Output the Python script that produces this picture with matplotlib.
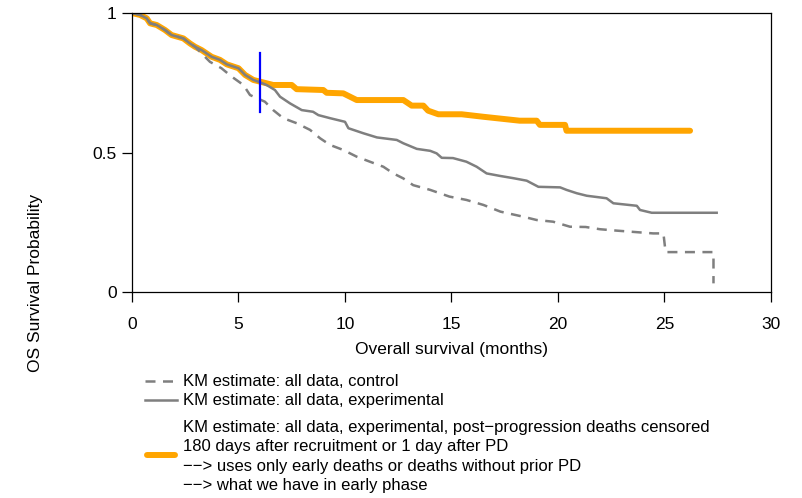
import numpy as np
import matplotlib.pyplot as plt
from matplotlib.lines import Line2D

plt.rcParams['font.family'] = ['Liberation Sans', 'DejaVu Sans']

# Kaplan-Meier curves as vertices (months, survival probability)
# shared early part of all three curves
early_t = [0, 0.38, 0.69, 0.85, 1.16, 1.55, 1.86, 2.41, 2.72, 2.96]
early_s = [1.0, 0.993, 0.981, 0.963, 0.957, 0.939, 0.921, 0.909, 0.891, 0.879]

# experimental arm, all data
exp_t = early_t + [3.27, 3.74, 4.13, 4.45, 5.0, 5.31, 5.7, 6.0, 6.32, 6.71, 6.95,
                   7.42, 7.97, 8.5, 8.75, 9.3, 10.0, 10.16, 10.86, 11.5, 12.43,
                   12.74, 13.37, 14.0, 14.3, 14.54, 15.07, 15.7, 16.18, 16.65,
                   17.28, 17.9, 18.53, 19.08, 20.1, 20.4, 20.88, 21.35, 22.28,
                   22.6, 23.7, 23.85, 24.4, 27.45]
exp_s = early_s + [0.867, 0.843, 0.832, 0.816, 0.802, 0.778, 0.760, 0.752, 0.742,
                   0.724, 0.700, 0.676, 0.652, 0.646, 0.634, 0.623, 0.610, 0.587,
                   0.569, 0.554, 0.545, 0.533, 0.513, 0.506, 0.497, 0.481, 0.480,
                   0.467, 0.449, 0.425, 0.416, 0.408, 0.399, 0.377, 0.375, 0.366,
                   0.354, 0.345, 0.336, 0.318, 0.309, 0.294, 0.284, 0.284]

# control arm, all data
ctl_t = early_t + [3.27, 3.66, 4.2, 4.68, 5.23, 5.54, 6.24, 6.63, 7.1, 7.73, 8.36,
                   8.83, 9.3, 9.92, 10.55, 11.17, 11.8, 12.27, 12.74, 13.2, 14.0,
                   14.9, 15.7, 16.5, 17.3, 18.36, 19.0, 19.77, 20.56, 21.3, 21.97,
                   22.75, 24.47, 24.95, 25.05, 27.3, 27.3]
ctl_s = early_s + [0.855, 0.825, 0.802, 0.772, 0.742, 0.706, 0.682, 0.652, 0.623,
                   0.605, 0.581, 0.551, 0.527, 0.509, 0.485, 0.467, 0.449, 0.425,
                   0.407, 0.383, 0.366, 0.342, 0.330, 0.312, 0.288, 0.270, 0.258,
                   0.252, 0.234, 0.233, 0.225, 0.220, 0.210, 0.210, 0.143, 0.143,
                   0.031]

# experimental arm, post-progression deaths censored
cens_t = exp_t[:17] + [6.63, 7.5, 7.73, 8.98, 9.14, 9.92, 10.55, 12.74, 13.13,
                       13.68, 13.9, 14.38, 15.48, 16.5, 18.2, 19.0, 19.15, 20.33,
                       20.4, 26.2]
cens_s = exp_s[:17] + [0.742, 0.742, 0.727, 0.724, 0.714, 0.712, 0.688, 0.688,
                       0.668, 0.668, 0.650, 0.637, 0.637, 0.628, 0.614, 0.614,
                       0.599, 0.599, 0.578, 0.578]

cut_month = 6.0
cut_range = [0.645, 0.857]

grey = '#7f7f7f'
orange = '#ffa500'

fig = plt.figure(figsize=(8.03, 4.98), dpi=100)
ax = fig.add_axes([132/803, 1 - 292/498, 639/803, 279/498])

ax.plot(cens_t, cens_s, color=orange, lw=4.3,
        solid_capstyle='round', solid_joinstyle='round')
ax.plot(ctl_t, ctl_s, color=grey, lw=1.8, dashes=(4, 3))
ax.plot(exp_t, exp_s, color=grey, lw=1.8)
ax.plot([cut_month, cut_month], cut_range, color='blue', lw=1.6)

ax.set_xlim(0, 30)
ax.set_ylim(0, 1)
ax.set_xticks([0, 5, 10, 15, 20, 25, 30])
ax.set_yticks([0, 0.5, 1])
ax.set_yticklabels(['0', '0.5', '1'])
ax.tick_params(direction='out', length=7, width=0.9, labelsize=12.5, pad=11)
ax.tick_params(axis='y', pad=4)
for sp in ax.spines.values():
    sp.set_linewidth(0.9)
ax.set_xlabel('Overall survival (months)', fontsize=12.5, labelpad=7)

fig.text(36/803, 1 - 283/498, 'OS Survival Probability', rotation=90,
         ha='center', va='center', fontsize=12.5)

# legend drawn by hand below the plot
def fy(py):
    return 1 - py/498

hx0, hx1, tx = 145/803, 177/803, 183/803
fig.add_artist(Line2D([hx0, hx1], [fy(381)]*2, color=grey, lw=1.8, dashes=(4, 3)))
fig.add_artist(Line2D([hx0, hx1], [fy(400)]*2, color=grey, lw=1.8))
fig.add_artist(Line2D([hx0 + 0.003, hx1 - 0.003], [fy(455)]*2, color=orange, lw=4.3,
                      solid_capstyle='round'))

legend_rows = [
    (381, 'KM estimate: all data, control'),
    (400, 'KM estimate: all data, experimental'),
    (427, 'KM estimate: all data, experimental, post\u2212progression deaths censored'),
    (446, '180 days after recruitment or 1 day after PD'),
    (466, '\u2212\u2212> uses only early deaths or deaths without prior PD'),
    (485, '\u2212\u2212> what we have in early phase'),
]
for py, txt in legend_rows:
    fig.text(tx, fy(py), txt, ha='left', va='center', fontsize=12)

fig.savefig('out.png', dpi=100)
